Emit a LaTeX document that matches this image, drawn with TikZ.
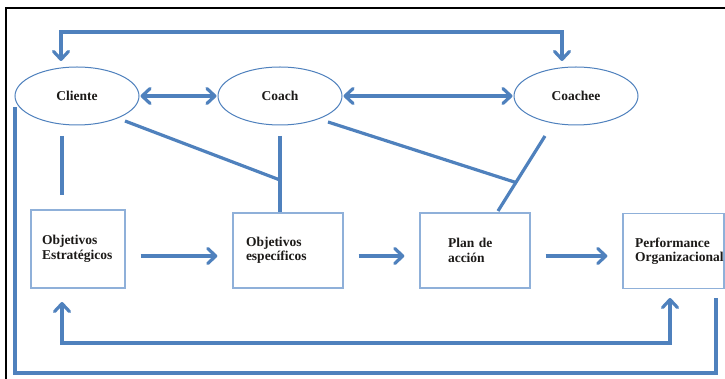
\documentclass[tikz,border=0pt]{standalone}
\usepackage{fontspec}
\setmainfont{Liberation Serif}
\usetikzlibrary{shapes.geometric,arrows.meta,calc}

\definecolor{flow}{HTML}{4F81BD}
\definecolor{boxline}{HTML}{8FB0D9}
\definecolor{ink}{HTML}{1C1A18}

\tikzset{
  label font/.style={font=\fontsize{13.5}{14.5}\selectfont\bfseries, text=ink},
  actor/.style={ellipse, draw=flow, line width=1pt, fill=white,
    minimum width=124pt, minimum height=58pt, inner sep=0pt, label font},
  stage/.style={rectangle, draw=boxline, line width=1.3pt, fill=white,
    align=left, minimum height=75pt, inner ysep=0pt, label font},
  link/.style={draw=flow, line width=3.2pt},
  barb/.tip={Straight Barb[length=8pt,width=15pt,line cap=round,line join=round]},
  arr/.style={link, -{barb}},
  dbl/.style={link, {barb}-{barb}},
}

\begin{document}
\begin{tikzpicture}[x=1pt,y=-1pt]
  \useasboundingbox (0,0) rectangle (725,379);
  \clip (0,0) rectangle (725,379);

  % frame
  \draw[black, line width=2pt] (6,400) -- (6,8) -- (760,8);

  % actors
  \node[actor] (cliente) at (77,96) {Cliente};
  \node[actor] (coach)   at (280,96) {Coach};
  \node[actor] (coachee) at (576,96) {Coachee};

  % stages
  \node[stage, text width=72pt, inner xsep=11pt, minimum height=78pt] (estrat) at (78,249)
    {Objetivos\\Estratégicos};
  \node[stage, text width=84pt, inner xsep=13pt] (espec) at (288,250.5)
    {Objetivos\\específicos};
  \node[stage, text width=54pt, inner xsep=28pt] (plan) at (475,250.5)
    {Plan de\\acción\\[4pt]};
  \node[stage, text width=77pt, inner xsep=12pt] (perf) at (673.5,251)
    {Performance\\Organizacional\\[4pt]};

  % end points of the free connectors
  \coordinate (cliTop)  at (61,61);
  \coordinate (cheTop)  at (562,61);
  \coordinate (topL)    at (61,32);
  \coordinate (topR)    at (562,32);
  \coordinate (cliDown) at (62,136);
  \coordinate (estUp)   at (62,195);
  \coordinate (cliDiag) at (125,121);
  \coordinate (coDown)  at (280,136);
  \coordinate (jA)      at (280,180);
  \coordinate (coDiag)  at (328,122);
  \coordinate (cheDiag) at (545,136);
  \coordinate (planUp)  at (498,211);
  \coordinate (jB)      at ($(cheDiag)!0.62!(planUp)$);
  \coordinate (estTip)  at (62,302);
  \coordinate (perfTip) at (670,298);
  \coordinate (fbY)     at (0,343);
  \coordinate (perfOut) at (716,298);
  \coordinate (cliOut)  at (15,107);
  \coordinate (outY)    at (0,373);

  % loop over the top, Cliente <-> Coachee
  \draw[dbl] (cliTop) -- (topL) -- (topR) -- (cheTop);

  % relations between actors
  \draw[dbl, shorten <=1pt, shorten >=1pt] (cliente.east) -- (coach.west);
  \draw[dbl, shorten <=1pt, shorten >=1pt] (coach.east) -- (coachee.west);

  % ties from actors down to the stages
  \draw[link] (cliDown) -- (estUp);
  \draw[link] (coDown) -- (coDown |- espec.north);
  \draw[link] (cliDiag) -- (jA);
  \draw[link] (cheDiag) -- (planUp);
  \draw[link] (coDiag) -- (jB);

  % main flow
  \draw[arr, shorten <=15pt, shorten >=15pt] (estrat.east |- 0,256) -- (espec.west |- 0,256);
  \draw[arr, shorten <=15pt, shorten >=15pt] (espec.east |- 0,256) -- (plan.west |- 0,256);
  \draw[arr, shorten <=15pt, shorten >=15pt] (plan.east |- 0,256) -- (perf.west |- 0,256);

  % feedback from performance to strategy
  \draw[dbl] (estTip) -- (estTip |- fbY) -- (perfTip |- fbY) -- (perfTip);

  % outer return to the client
  \draw[link] (perfOut) -- (perfOut |- outY) -- (cliOut |- outY) -- (cliOut);
\end{tikzpicture}
\end{document}
